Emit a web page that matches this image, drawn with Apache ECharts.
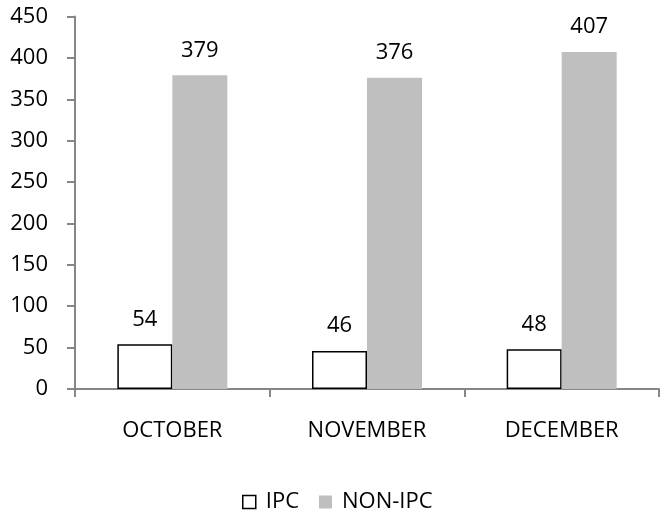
<!DOCTYPE html>
<html>
<head>
<meta charset="utf-8">
<script src="https://cdn.jsdelivr.net/npm/echarts@6/dist/echarts.min.js"></script>
<style>html,body{margin:0;padding:0;background:#fff}#c{width:660px;height:516px}</style>
</head>
<body>
<div id="c"></div>
<script>
var categories = ['OCTOBER', 'NOVEMBER', 'DECEMBER'];
var ipc = [54, 46, 48];
var nonIpc = [379, 376, 407];
var yTicks = [0, 50, 100, 150, 200, 250, 300, 350, 400, 450];

var font = '"Open Sans", "Liberation Sans", sans-serif';
var chart = echarts.init(document.getElementById('c'), null, {renderer: 'canvas'});
chart.setOption({
  animation: false,
  textStyle: {fontFamily: font},
  grid: {left: 75, right: 1, top: 16.5, bottom: 127, containLabel: false},
  legend: {
    top: 486,
    left: 237,
    itemWidth: 13,
    itemHeight: 13,
    itemGap: 20,
    textStyle: {fontFamily: font, fontSize: 22, color: '#000', padding: [0, 0, 0, 5]},
    data: [
      {name: 'IPC', icon: 'rect', itemStyle: {color: '#fff', borderColor: '#000', borderWidth: 1.5}},
      {name: 'NON-IPC', icon: 'rect', itemStyle: {color: '#bfbfbf', borderWidth: 0}}
    ]
  },
  xAxis: {
    type: 'category',
    data: categories,
    axisLine: {lineStyle: {color: '#868686', width: 2}},
    axisTick: {show: true, length: 8, lineStyle: {color: '#868686', width: 2}},
    axisLabel: {fontFamily: font, fontSize: 22, color: '#000', margin: 31}
  },
  yAxis: {
    type: 'value',
    min: yTicks[0],
    max: yTicks[yTicks.length - 1],
    interval: 50,
    axisLine: {show: true, lineStyle: {color: '#868686', width: 2}},
    axisTick: {show: true, length: 8, lineStyle: {color: '#868686', width: 2}},
    splitLine: {show: false},
    axisLabel: {fontFamily: font, fontSize: 22, color: '#000', margin: 27}
  },
  series: [
    {
      name: 'IPC', type: 'bar', data: ipc, barWidth: 55, barGap: '0%',
      itemStyle: {color: '#fff', borderColor: '#000', borderWidth: 1.5},
      label: {show: true, position: 'top', distance: 14, fontFamily: font, fontSize: 22, color: '#000'}
    },
    {
      name: 'NON-IPC', type: 'bar', data: nonIpc, barWidth: 55, barGap: '0%',
      itemStyle: {color: '#bfbfbf'},
      label: {show: true, position: 'top', distance: 14, fontFamily: font, fontSize: 22, color: '#000'}
    }
  ]
});
</script>
</body>
</html>
